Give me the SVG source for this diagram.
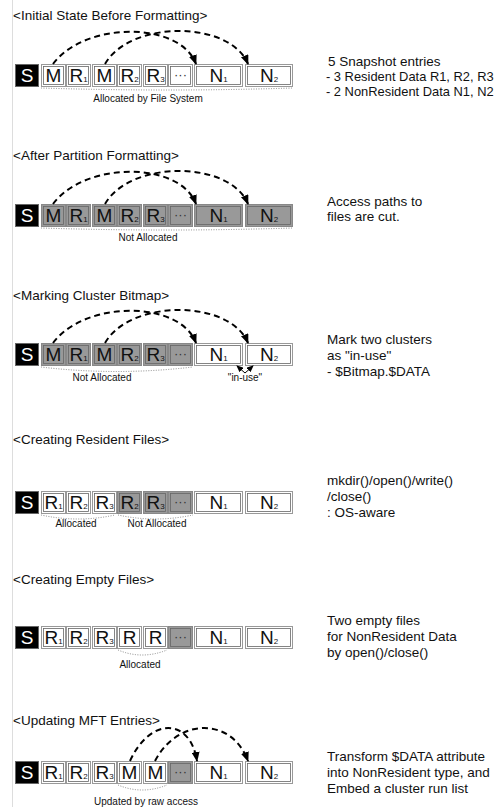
<svg xmlns="http://www.w3.org/2000/svg" width="499" height="807" viewBox="0 0 499 807">
  <defs>
    <marker id="ah" markerUnits="userSpaceOnUse" markerWidth="10" markerHeight="8" refX="9" refY="4" orient="auto">
      <path d="M0,0 L10,4 L0,8 z" fill="#000"/>
    </marker>
    <marker id="ahs" markerUnits="userSpaceOnUse" markerWidth="7" markerHeight="6" refX="6" refY="3" orient="auto">
      <path d="M0,0 L7,3 L0,6 z" fill="#000"/>
    </marker>
  </defs>
  <style>
    text { font-family: "Liberation Sans", Arial, sans-serif; fill: #111; }
    .title { font-size: 13.5px; }
    .note { font-size: 13.5px; }
    .note.sm { font-size: 12.9px; }
    .cap { font-size: 10px; text-anchor: middle; }
    .lbl { font-size: 19px; text-anchor: middle; }
    .lbl.inv { fill: #fff; }
    .sb { font-size: 8px; }
    .dots { font-size: 13px; text-anchor: middle; fill: #333; }
    .bw { fill: #fff; stroke: #999; stroke-width: 1; }
    .bg { fill: #999; stroke: #888; stroke-width: 1; }
    .bs { fill: #000; stroke: #666; stroke-width: 1; }
    .in { fill: none; stroke: #666; stroke-width: 0.8; }
    .dash { fill: none; stroke: #000; stroke-width: 2; stroke-dasharray: 6 4; marker-end: url(#ah); }
    .dot { fill: none; stroke: #888; stroke-width: 1; stroke-dasharray: 1 1.5; }
    .thin { fill: none; stroke: #000; stroke-width: 1; marker-end: url(#ahs); }
    .rule { stroke: #ddd; stroke-width: 1; }
  </style>

  <!-- margin rule -->
  <line class="rule" x1="12.5" y1="0" x2="12.5" y2="807"/>

  <!-- ===== Step 1 ===== -->
  <text class="title" x="13" y="20">&lt;Initial State Before Formatting&gt;</text>
  <g id="s1-S"><rect class="bs" x="15.5" y="64.5" width="23" height="22"/><text class="lbl inv" x="27" y="82">S</text></g>
  <g id="s1-M1"><rect class="bw" x="41.5" y="64.5" width="24" height="22"/><rect class="in" x="43.5" y="66.5" width="20" height="18"/><text class="lbl" x="53.5" y="82">M</text></g>
  <g id="s1-R1"><rect class="bw" x="66.5" y="64.5" width="24" height="22"/><rect class="in" x="68.5" y="66.5" width="20" height="18"/><text class="lbl" x="78.5" y="82">R<tspan class="sb">1</tspan></text></g>
  <g id="s1-M2"><rect class="bw" x="92.5" y="64.5" width="24" height="22"/><rect class="in" x="94.5" y="66.5" width="20" height="18"/><text class="lbl" x="104.5" y="82">M</text></g>
  <g id="s1-R2"><rect class="bw" x="117.5" y="64.5" width="24" height="22"/><rect class="in" x="119.5" y="66.5" width="20" height="18"/><text class="lbl" x="129.5" y="82">R<tspan class="sb">2</tspan></text></g>
  <g id="s1-R3"><rect class="bw" x="143.5" y="64.5" width="24" height="22"/><rect class="in" x="145.5" y="66.5" width="20" height="18"/><text class="lbl" x="155.5" y="82">R<tspan class="sb">3</tspan></text></g>
  <g id="s1-etc"><rect class="bw" x="168.5" y="64.5" width="24" height="22"/><rect class="in" x="170.5" y="66.5" width="20" height="18"/><text class="dots" x="180.5" y="79">···</text></g>
  <g id="s1-N1"><rect class="bw" x="194.5" y="64.5" width="48" height="22"/><rect class="in" x="196.5" y="66.5" width="44" height="18"/><text class="lbl" x="218.5" y="82">N<tspan class="sb">1</tspan></text></g>
  <g id="s1-N2"><rect class="bw" x="245.5" y="64.5" width="47" height="22"/><rect class="in" x="247.5" y="66.5" width="43" height="18"/><text class="lbl" x="269" y="82">N<tspan class="sb">2</tspan></text></g>
  <text class="cap" x="148" y="102">Allocated by File System</text>
  <text class="note" x="328" y="66">5 Snapshot entries</text>
  <text class="note sm" x="326" y="81">- 3 Resident Data R1, R2, R3</text>
  <text class="note sm" x="326" y="96">- 2 NonResident Data N1, N2</text>

  <!-- ===== Step 2 ===== -->
  <text class="title" x="13" y="160">&lt;After Partition Formatting&gt;</text>
  <g id="s2-S"><rect class="bs" x="15.5" y="204.5" width="23" height="22"/><text class="lbl inv" x="27" y="222">S</text></g>
  <g id="s2-M1"><rect class="bg" x="41.5" y="204.5" width="24" height="22"/><rect class="in" x="43.5" y="206.5" width="20" height="18"/><text class="lbl" x="53.5" y="222">M</text></g>
  <g id="s2-R1"><rect class="bg" x="66.5" y="204.5" width="24" height="22"/><rect class="in" x="68.5" y="206.5" width="20" height="18"/><text class="lbl" x="78.5" y="222">R<tspan class="sb">1</tspan></text></g>
  <g id="s2-M2"><rect class="bg" x="92.5" y="204.5" width="24" height="22"/><rect class="in" x="94.5" y="206.5" width="20" height="18"/><text class="lbl" x="104.5" y="222">M</text></g>
  <g id="s2-R2"><rect class="bg" x="117.5" y="204.5" width="24" height="22"/><rect class="in" x="119.5" y="206.5" width="20" height="18"/><text class="lbl" x="129.5" y="222">R<tspan class="sb">2</tspan></text></g>
  <g id="s2-R3"><rect class="bg" x="143.5" y="204.5" width="24" height="22"/><rect class="in" x="145.5" y="206.5" width="20" height="18"/><text class="lbl" x="155.5" y="222">R<tspan class="sb">3</tspan></text></g>
  <g id="s2-etc"><rect class="bg" x="168.5" y="204.5" width="24" height="22"/><rect class="in" x="170.5" y="206.5" width="20" height="18"/><text class="dots" x="180.5" y="219">···</text></g>
  <g id="s2-N1"><rect class="bg" x="194.5" y="204.5" width="48" height="22"/><rect class="in" x="196.5" y="206.5" width="44" height="18"/><text class="lbl" x="218.5" y="222">N<tspan class="sb">1</tspan></text></g>
  <g id="s2-N2"><rect class="bg" x="245.5" y="204.5" width="47" height="22"/><rect class="in" x="247.5" y="206.5" width="43" height="18"/><text class="lbl" x="269" y="222">N<tspan class="sb">2</tspan></text></g>
  <text class="cap" x="148" y="241">Not Allocated</text>
  <text class="note" x="327" y="206">Access paths to</text>
  <text class="note" x="327" y="221">files are cut.</text>

  <!-- ===== Step 3 ===== -->
  <text class="title" x="13" y="300">&lt;Marking Cluster Bitmap&gt;</text>
  <g id="s3-S"><rect class="bs" x="15.5" y="343.5" width="23" height="22"/><text class="lbl inv" x="27" y="361">S</text></g>
  <g id="s3-M1"><rect class="bg" x="41.5" y="343.5" width="24" height="22"/><rect class="in" x="43.5" y="345.5" width="20" height="18"/><text class="lbl" x="53.5" y="361">M</text></g>
  <g id="s3-R1"><rect class="bg" x="66.5" y="343.5" width="24" height="22"/><rect class="in" x="68.5" y="345.5" width="20" height="18"/><text class="lbl" x="78.5" y="361">R<tspan class="sb">1</tspan></text></g>
  <g id="s3-M2"><rect class="bg" x="92.5" y="343.5" width="24" height="22"/><rect class="in" x="94.5" y="345.5" width="20" height="18"/><text class="lbl" x="104.5" y="361">M</text></g>
  <g id="s3-R2"><rect class="bg" x="117.5" y="343.5" width="24" height="22"/><rect class="in" x="119.5" y="345.5" width="20" height="18"/><text class="lbl" x="129.5" y="361">R<tspan class="sb">2</tspan></text></g>
  <g id="s3-R3"><rect class="bg" x="143.5" y="343.5" width="24" height="22"/><rect class="in" x="145.5" y="345.5" width="20" height="18"/><text class="lbl" x="155.5" y="361">R<tspan class="sb">3</tspan></text></g>
  <g id="s3-etc"><rect class="bg" x="168.5" y="343.5" width="24" height="22"/><rect class="in" x="170.5" y="345.5" width="20" height="18"/><text class="dots" x="180.5" y="358">···</text></g>
  <g id="s3-N1"><rect class="bw" x="194.5" y="343.5" width="48" height="22"/><rect class="in" x="196.5" y="345.5" width="44" height="18"/><text class="lbl" x="218.5" y="361">N<tspan class="sb">1</tspan></text></g>
  <g id="s3-N2"><rect class="bw" x="245.5" y="343.5" width="47" height="22"/><rect class="in" x="247.5" y="345.5" width="43" height="18"/><text class="lbl" x="269" y="361">N<tspan class="sb">2</tspan></text></g>
  <text class="cap" x="102" y="381">Not Allocated</text>
  <text class="cap" x="245" y="381">"in-use"</text>
  <text class="note" x="327" y="344">Mark two clusters</text>
  <text class="note" x="327" y="360">as "in-use"</text>
  <text class="note" x="327" y="376">- $Bitmap.$DATA</text>

  <!-- ===== Step 4 ===== -->
  <text class="title" x="13" y="444">&lt;Creating Resident Files&gt;</text>
  <g id="s4-S"><rect class="bs" x="15.5" y="491.5" width="23" height="22"/><text class="lbl inv" x="27" y="509">S</text></g>
  <g id="s4-R1"><rect class="bw" x="41.5" y="491.5" width="24" height="22"/><rect class="in" x="43.5" y="493.5" width="20" height="18"/><text class="lbl" x="53.5" y="509">R<tspan class="sb">1</tspan></text></g>
  <g id="s4-R2"><rect class="bw" x="66.5" y="491.5" width="24" height="22"/><rect class="in" x="68.5" y="493.5" width="20" height="18"/><text class="lbl" x="78.5" y="509">R<tspan class="sb">2</tspan></text></g>
  <g id="s4-R3"><rect class="bw" x="92.5" y="491.5" width="24" height="22"/><rect class="in" x="94.5" y="493.5" width="20" height="18"/><text class="lbl" x="104.5" y="509">R<tspan class="sb">3</tspan></text></g>
  <g id="s4-R2b"><rect class="bg" x="117.5" y="491.5" width="24" height="22"/><rect class="in" x="119.5" y="493.5" width="20" height="18"/><text class="lbl" x="129.5" y="509">R<tspan class="sb">2</tspan></text></g>
  <g id="s4-R3b"><rect class="bg" x="143.5" y="491.5" width="24" height="22"/><rect class="in" x="145.5" y="493.5" width="20" height="18"/><text class="lbl" x="155.5" y="509">R<tspan class="sb">3</tspan></text></g>
  <g id="s4-etc"><rect class="bg" x="168.5" y="491.5" width="24" height="22"/><rect class="in" x="170.5" y="493.5" width="20" height="18"/><text class="dots" x="180.5" y="506">···</text></g>
  <g id="s4-N1"><rect class="bw" x="194.5" y="491.5" width="48" height="22"/><rect class="in" x="196.5" y="493.5" width="44" height="18"/><text class="lbl" x="218.5" y="509">N<tspan class="sb">1</tspan></text></g>
  <g id="s4-N2"><rect class="bw" x="245.5" y="491.5" width="47" height="22"/><rect class="in" x="247.5" y="493.5" width="43" height="18"/><text class="lbl" x="269" y="509">N<tspan class="sb">2</tspan></text></g>
  <text class="cap" x="76" y="527">Allocated</text>
  <text class="cap" x="157" y="527">Not Allocated</text>
  <text class="note" x="327" y="485">mkdir()/open()/write()</text>
  <text class="note" x="327" y="501">/close()</text>
  <text class="note" x="327" y="517">: OS-aware</text>

  <!-- ===== Step 5 ===== -->
  <text class="title" x="13" y="584">&lt;Creating Empty Files&gt;</text>
  <g id="s5-S"><rect class="bs" x="15.5" y="626.5" width="23" height="22"/><text class="lbl inv" x="27" y="644">S</text></g>
  <g id="s5-R1"><rect class="bw" x="41.5" y="626.5" width="24" height="22"/><rect class="in" x="43.5" y="628.5" width="20" height="18"/><text class="lbl" x="53.5" y="644">R<tspan class="sb">1</tspan></text></g>
  <g id="s5-R2"><rect class="bw" x="66.5" y="626.5" width="24" height="22"/><rect class="in" x="68.5" y="628.5" width="20" height="18"/><text class="lbl" x="78.5" y="644">R<tspan class="sb">2</tspan></text></g>
  <g id="s5-R3"><rect class="bw" x="92.5" y="626.5" width="24" height="22"/><rect class="in" x="94.5" y="628.5" width="20" height="18"/><text class="lbl" x="104.5" y="644">R<tspan class="sb">3</tspan></text></g>
  <g id="s5-Ra"><rect class="bw" x="117.5" y="626.5" width="24" height="22"/><rect class="in" x="119.5" y="628.5" width="20" height="18"/><text class="lbl" x="129.5" y="644">R</text></g>
  <g id="s5-Rb"><rect class="bw" x="143.5" y="626.5" width="24" height="22"/><rect class="in" x="145.5" y="628.5" width="20" height="18"/><text class="lbl" x="155.5" y="644">R</text></g>
  <g id="s5-etc"><rect class="bg" x="168.5" y="626.5" width="24" height="22"/><rect class="in" x="170.5" y="628.5" width="20" height="18"/><text class="dots" x="180.5" y="641">···</text></g>
  <g id="s5-N1"><rect class="bw" x="194.5" y="626.5" width="48" height="22"/><rect class="in" x="196.5" y="628.5" width="44" height="18"/><text class="lbl" x="218.5" y="644">N<tspan class="sb">1</tspan></text></g>
  <g id="s5-N2"><rect class="bw" x="245.5" y="626.5" width="47" height="22"/><rect class="in" x="247.5" y="628.5" width="43" height="18"/><text class="lbl" x="269" y="644">N<tspan class="sb">2</tspan></text></g>
  <text class="cap" x="140" y="668">Allocated</text>
  <text class="note" x="327" y="625">Two empty files</text>
  <text class="note" x="327" y="641">for NonResident Data</text>
  <text class="note" x="327" y="657">by open()/close()</text>

  <!-- ===== Step 6 ===== -->
  <text class="title" x="13" y="725">&lt;Updating MFT Entries&gt;</text>
  <g id="s6-S"><rect class="bs" x="15.5" y="761.5" width="23" height="22"/><text class="lbl inv" x="27" y="779">S</text></g>
  <g id="s6-R1"><rect class="bw" x="41.5" y="761.5" width="24" height="22"/><rect class="in" x="43.5" y="763.5" width="20" height="18"/><text class="lbl" x="53.5" y="779">R<tspan class="sb">1</tspan></text></g>
  <g id="s6-R2"><rect class="bw" x="66.5" y="761.5" width="24" height="22"/><rect class="in" x="68.5" y="763.5" width="20" height="18"/><text class="lbl" x="78.5" y="779">R<tspan class="sb">2</tspan></text></g>
  <g id="s6-R3"><rect class="bw" x="92.5" y="761.5" width="24" height="22"/><rect class="in" x="94.5" y="763.5" width="20" height="18"/><text class="lbl" x="104.5" y="779">R<tspan class="sb">3</tspan></text></g>
  <g id="s6-M1"><rect class="bw" x="117.5" y="761.5" width="24" height="22"/><rect class="in" x="119.5" y="763.5" width="20" height="18"/><text class="lbl" x="129.5" y="779">M</text></g>
  <g id="s6-M2"><rect class="bw" x="143.5" y="761.5" width="24" height="22"/><rect class="in" x="145.5" y="763.5" width="20" height="18"/><text class="lbl" x="155.5" y="779">M</text></g>
  <g id="s6-etc"><rect class="bg" x="168.5" y="761.5" width="24" height="22"/><rect class="in" x="170.5" y="763.5" width="20" height="18"/><text class="dots" x="180.5" y="776">···</text></g>
  <g id="s6-N1"><rect class="bw" x="194.5" y="761.5" width="48" height="22"/><rect class="in" x="196.5" y="763.5" width="44" height="18"/><text class="lbl" x="218.5" y="779">N<tspan class="sb">1</tspan></text></g>
  <g id="s6-N2"><rect class="bw" x="245.5" y="761.5" width="47" height="22"/><rect class="in" x="247.5" y="763.5" width="43" height="18"/><text class="lbl" x="269" y="779">N<tspan class="sb">2</tspan></text></g>
  <text class="cap" x="146" y="805">Updated by raw access</text>
  <text class="note" x="327" y="761">Transform $DATA attribute</text>
  <text class="note" x="327" y="777">into NonResident type, and</text>
  <text class="note" x="327" y="793">Embed a cluster run list</text>

  <!-- connectors -->
  <g id="connectors">
    <!-- MFT entry -> data cluster references -->
    <path class="dash" d="M53,64 C85,21 180,21 196,64"/>
    <path class="dash" d="M105,64 C130,20 230,20 248,64"/>
    <path class="dash" d="M53,204 C85,161 180,161 196,204"/>
    <path class="dash" d="M105,204 C130,160 230,160 248,204"/>
    <path class="dash" d="M53,343 C85,300 180,300 196,343"/>
    <path class="dash" d="M105,343 C130,299 230,299 248,343"/>
    <path class="dash" d="M130,761 C150,717 190,717 197,761"/>
    <path class="dash" d="M155,761 C178,717 232,717 248,761"/>
    <!-- bitmap marks -->
    <path class="thin" d="M245,373 L237,366"/>
    <path class="thin" d="M245,373 L253,366"/>
    <!-- range braces -->
    <path class="dot" d="M41,88 Q167,92 293,88"/>
    <path class="dot" d="M41,228 Q167,232 293,228"/>
    <path class="dot" d="M41,367 Q116,376 193,367"/>
    <path class="dot" d="M41,515 Q78,523 115,515"/>
    <path class="dot" d="M118,515 Q155,523 193,515"/>
    <path class="dot" d="M118,650 Q142,660 167,650"/>
    <path class="dot" d="M118,785 Q142,795 167,785"/>
  </g>
</svg>
